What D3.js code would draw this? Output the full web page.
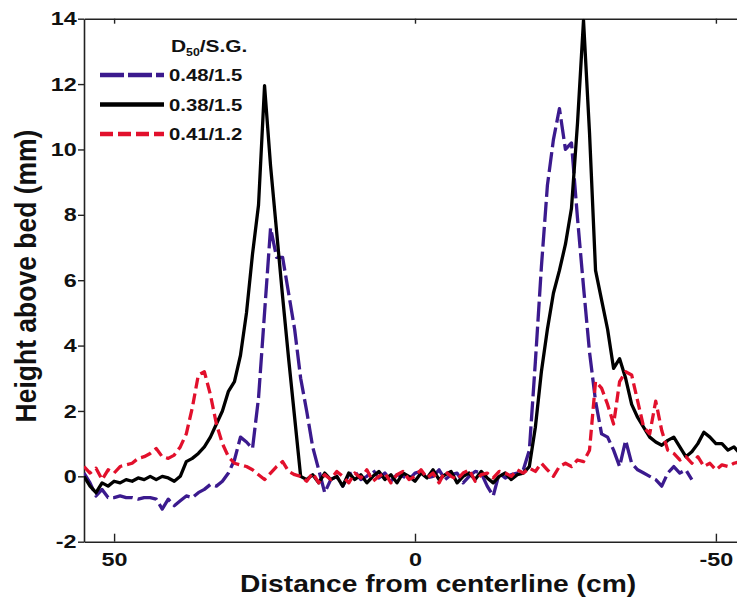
<!DOCTYPE html>
<meta charset="utf-8">
<style>

body {
  margin: 0;
  background: #fff;
}

text {
  font-family: "Liberation Sans", Arial, sans-serif;
  font-weight: bold;
  fill: #111;
}

.axis path,
.axis line {
  fill: none;
  stroke: #222;
  stroke-width: 1.4px;
}

.trace {
  fill: none;
  stroke-width: 3.3px;
  stroke-linejoin: round;
}

</style>
<body>
<div id="chart"></div>
<script src="https://cdn.jsdelivr.net/npm/d3@7"></script>
<script>

// distance from centerline (cm), one value per cm
var distance = [
   55,  54,  53,  52,  51,  50,  49,  48,  47,  46,
   45,  44,  43,  42,  41,  40,  39,  38,  37,  36,
   35,  34,  33,  32,  31,  30,  29,  28,  27,  26,
   25,  24,  23,  22,  21,  20,  19,  18,  17,  16,
   15,  14,  13,  12,  11,  10,   9,   8,   7,   6,
    5,   4,   3,   2,   1,   0,  -1,  -2,  -3,  -4,
   -5,  -6,  -7,  -8,  -9, -10, -11, -12, -13, -14,
  -15, -16, -17, -18, -19, -20, -21, -22, -23, -24,
  -25, -26, -27, -28, -29, -30, -31, -32, -33, -34,
  -35, -36, -37, -38, -39, -40, -41, -42, -43, -44,
  -45, -46, -47, -48, -49, -50, -51, -52, -53, -54,
  -55
];

// height above bed (mm), D50/S.G. = 0.48/1.5
var height048 = [
  0.1, -0.2, -0.6, -0.4, -0.65, -0.65, -0.6, -0.65, -0.65, -0.7,
  -0.65, -0.65, -0.7, -1.0, -0.7, -0.9, -0.75, -0.6, -0.65, -0.5,
  -0.4, -0.25, -0.3, -0.15, 0.1, 0.5, 1.2, 1.05, 0.85, 2.4,
  5.0, 7.6, 6.7, 6.7, 5.6, 4.5, 3.0, 2.0, 0.9, 0.2,
  -0.5, -0.1, 0.0, -0.3, 0.05, 0.15, -0.1, 0.0, 0.2, -0.05,
  0.1, -0.15, 0.05, 0.0, -0.1, 0.1, 0.15, -0.05, 0.0, 0.2,
  -0.1, 0.05, 0.1, -0.2, 0.0, 0.15, 0.1, -0.3, -0.6, 0.1,
  -0.05, 0.05, 0.1, 0.2, 0.8, 3.5, 6.4, 8.9, 10.3, 11.25,
  10.0, 10.2, 7.9, 5.8, 3.8, 2.3, 1.3, 1.2, 0.8, 0.3,
  1.1, 0.4, 0.2, 0.1, 0.0, -0.1, -0.3, 0.1, 0.3, 0.1,
  0.2, -0.1, null, null, null, null, null, null, null, null,
  null
];

// D50/S.G. = 0.38/1.5
var height038 = [
  0.0, -0.3, -0.5, -0.2, -0.3, -0.15, -0.2, -0.1, -0.15, -0.05,
  -0.1, 0.0, -0.1, 0.0, -0.05, -0.15, 0.0, 0.45, 0.55, 0.7,
  0.9, 1.2, 1.6, 2.0, 2.6, 2.9, 3.7, 5.0, 6.8, 8.3,
  11.95, 9.5, 7.5, 5.5, 3.6, 1.8, 0.0, -0.1, 0.05, -0.2,
  0.1, -0.1, 0.0, -0.3, 0.1, -0.1, 0.05, -0.2, 0.0, 0.15,
  -0.1, 0.05, -0.2, 0.1, 0.0, -0.15, 0.1, -0.05, 0.2, -0.1,
  0.05, 0.15, -0.2, 0.0, 0.1, -0.1, 0.15, -0.05, -0.2, 0.0,
  0.1, -0.1, 0.05, 0.1, 0.3, 1.5, 3.2, 4.5, 5.6, 6.3,
  7.1, 8.2, 10.8, 13.95, 10.5, 6.3, 5.4, 4.5, 3.3, 3.6,
  3.0, 2.2, 1.8, 1.5, 1.2, 1.05, 0.95, 1.1, 1.2, 0.9,
  0.6, 0.75, 1.0, 1.35, 1.2, 1.0, 1.0, 0.8, 0.9, 0.7,
  0.6
];

// D50/S.G. = 0.41/1.2
var height041 = [
  0.3, 0.1, 0.25, -0.1, 0.2, 0.1, 0.3, 0.35, 0.4, 0.55,
  0.6, 0.7, 0.85, 0.6, 0.55, 0.65, 0.9, 1.3, 2.1, 3.1,
  3.2, 2.5, 1.6, 1.0, 0.6, 0.4, 0.35, 0.3, 0.2, 0.05,
  -0.1, 0.1, 0.3, 0.45, 0.15, 0.05, 0.0, -0.15, 0.1, -0.2,
  0.05, -0.1, 0.15, 0.0, -0.2, 0.1, -0.05, 0.2, -0.15, 0.0,
  0.1, -0.2, 0.05, 0.15, -0.1, 0.0, 0.2, -0.05, 0.1, -0.2,
  0.15, 0.0, -0.1, 0.1, 0.2, -0.15, 0.05, 0.1, -0.05, 0.15,
  0.1, 0.0, 0.2, 0.1, 0.25, 0.15, 0.4, 0.2, 0.0, 0.3,
  0.4, 0.3, 0.5, 0.45, 0.8, 2.9, 2.7, 2.2, 1.6, 2.9,
  3.2, 3.1, 2.3, 1.5, 1.3, 2.3, 1.4, 0.8, 0.7, 0.5,
  0.6, 0.4, 0.6, 0.3, 0.4, 0.2, 0.35, 0.3, 0.4, 0.45,
  0.3
];

var seriesNames = ["0.48/1.5", "0.38/1.5", "0.41/1.2"];
var seriesValues = [height048, height038, height041];
var seriesColors = ["#3b1a8e", "#000000", "#e2102c"];
var seriesDash = ["20,5", null, "11,5"];
var legendDash = ["24,4", null, "13,5"];

var xTicks = [50, 0, -50];
var yTicks = [-2, 0, 2, 4, 6, 8, 10, 12, 14];

// the scanned figure is stretched sideways, so text is too
var sx = 1.23;

var margin = {top: 18.7, left: 84},
    width = 662,
    height = 523;

var svg = d3.select("#chart").append("svg")
    .attr("width", 737)
    .attr("height", 605);

var g = svg.append("g")
    .attr("transform", "translate(" + margin.left + "," + margin.top + ")");

var x = d3.scaleLinear().domain([55, -55]).range([0, width]);
var y = d3.scaleLinear().domain([-2, 14]).range([height, 0]);

g.append("clipPath")
    .attr("id", "plotclip")
  .append("rect")
    .attr("width", width)
    .attr("height", height);

// box: bottom, left, top
var xAxis = g.append("g")
    .attr("class", "axis")
    .attr("transform", "translate(0," + height + ")")
    .call(d3.axisBottom(x).tickValues(xTicks).tickSizeInner(-8).tickSizeOuter(0)
      .tickPadding(11).tickFormat(function(d) { return String(d); }));

xAxis.selectAll("text")
    .style("font-size", "19px")
    .attr("transform", "scale(" + sx + ",1)");

var yAxis = g.append("g")
    .attr("class", "axis")
    .call(d3.axisLeft(y).tickValues(yTicks).tickSizeInner(6).tickSizeOuter(0)
      .tickPadding(0).tickFormat(function(d) { return String(d); }));

yAxis.selectAll("text")
    .style("font-size", "19px")
    .attr("transform", "scale(" + sx + ",1)");

g.append("g")
    .attr("class", "axis")
    .call(d3.axisTop(x).tickValues(xTicks).tickSizeInner(-5).tickSizeOuter(0)
      .tickFormat(""));

g.selectAll(".domain").style("stroke-width", "1.6px");

// traces
var line = d3.line()
    .defined(function(d) { return d[1] !== null; })
    .x(function(d) { return x(d[0]); })
    .y(function(d) { return y(d[1]); });

var traces = g.append("g").attr("clip-path", "url(#plotclip)");

seriesValues.forEach(function(vals, i) {
  var pts = distance.map(function(d, j) { return [d, vals[j]]; });
  traces.append("path")
      .datum(pts)
      .attr("class", "trace")
      .attr("d", line)
      .style("stroke", seriesColors[i])
      .style("stroke-dasharray", seriesDash[i]);
});

// legend
var legend = svg.append("g");

var title = legend.append("text")
    .attr("transform", "translate(171,52) scale(" + sx + ",1)")
    .style("font-size", "17px");
title.append("tspan").text("D");
title.append("tspan").attr("dy", 4).style("font-size", "10px").text("50");
title.append("tspan").attr("dy", -4).text("/S.G.");

seriesNames.forEach(function(name, i) {
  var ly = 75 + i * 29.5;
  legend.append("line")
      .attr("x1", 100).attr("x2", 164)
      .attr("y1", ly).attr("y2", ly)
      .style("stroke", seriesColors[i])
      .style("stroke-width", 4.5)
      .style("stroke-dasharray", legendDash[i]);
  legend.append("text")
      .attr("transform", "translate(169," + (ly + 6) + ") scale(" + sx + ",1)")
      .style("font-size", "16.5px")
      .text(name);
});

// axis titles
svg.append("text")
    .attr("transform", "translate(438,592) scale(1.2,1)")
    .attr("text-anchor", "middle")
    .style("font-size", "23.5px")
    .text("Distance from centerline (cm)");

svg.append("text")
    .attr("transform", "translate(36,276) scale(1.1,1) rotate(-90)")
    .attr("text-anchor", "middle")
    .style("font-size", "26.5px")
    .text("Height above bed (mm)");

</script>
